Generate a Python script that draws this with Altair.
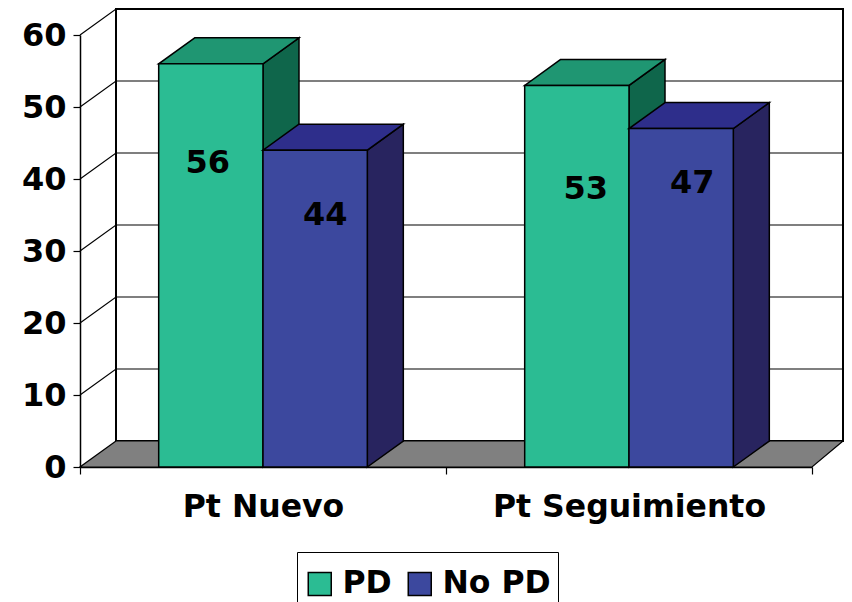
import altair as alt
import pandas as pd

categories = ["Pt Nuevo", "Pt Seguimiento"]
series = ["PD", "No PD"]
pd_values = [56, 53]
no_pd_values = [44, 47]

FRONT = {"PD": "#2BBC93", "No PD": "#3C489E"}
TOP = {"PD": "#1F9672", "No PD": "#2E2E8B"}
SIDE = {"PD": "#0F664B", "No PD": "#28245F"}
FONT = "DejaVu Sans"
DX = 36 / 366      # depth of the 3-D box in category units
DY = 26 / 7.2      # depth of the 3-D box in value units
WALL_RIGHT = 763 / 366  # right edge of the back wall, kept inside the page
BAR = 0.285
# pixel nudges of the value labels relative to each bar's top centre
LABEL_NUDGE = {("PD", 0): (-3, 99), ("No PD", 0): (10, 65),
               ("PD", 1): (9, 104), ("No PD", 1): (11, 54)}

label_expr = "datum.value == 0.5 ? '%s' : datum.value == 1.5 ? '%s' : ''" % tuple(categories)
xs = alt.Scale(domain=[0, 2], nice=False, zero=False)
ys = alt.Scale(domain=[0, 60], nice=False, zero=False)
x_axis = alt.Axis(
    values=[0, 0.5, 1, 1.5, 2], labelExpr=label_expr, grid=False,
    domainColor="black", domainWidth=1.5, tickColor="black", tickWidth=1.2, tickSize=7,
    tickOpacity=alt.condition("datum.value % 1 == 0", alt.value(1), alt.value(0)),
    labelFont=FONT, labelFontSize=31.5, labelFontWeight="bold", labelColor="black",
    labelPadding=17, labelFlush=False, labelOverlap=False, labelLimit=400,
)
y_axis = alt.Axis(
    values=list(range(0, 70, 10)), grid=False,
    domainColor="black", domainWidth=1.5, tickColor="black", tickWidth=1.2, tickSize=7,
    labelFont=FONT, labelFontSize=32, labelFontWeight="bold", labelColor="black",
    labelPadding=7,
)
X = alt.X("x:Q", scale=xs, title=None, axis=x_axis)
Y = alt.Y("y:Q", scale=ys, title=None, axis=y_axis)

# back wall
wall = alt.Chart(pd.DataFrame([{"x": DX, "x2": WALL_RIGHT, "y": DY, "y2": 60 + DY}])).mark_rect(
    fill="white", stroke="black", strokeWidth=2
).encode(X, x2="x2:Q", y=Y, y2="y2:Q")

# gridlines: diagonal on the side wall, then across the back wall
grid_rows = []
for v in range(10, 70, 10):
    grid_rows += [
        {"v": v, "o": 0, "x": 0, "y": v},
        {"v": v, "o": 1, "x": DX, "y": v + DY},
        {"v": v, "o": 2, "x": WALL_RIGHT, "y": v + DY},
    ]
grid = alt.Chart(pd.DataFrame(grid_rows)).mark_line(color="black", strokeWidth=1.2).encode(
    X, Y, detail="v:N", order="o:Q"
)

# floor
floor = alt.Chart(pd.DataFrame([
    {"y": 0, "x": 0, "x2": 2},
    {"y": DY, "x": DX, "x2": WALL_RIGHT},
])).mark_area(orient="horizontal", fill="#808080", stroke="black", strokeWidth=1.2).encode(
    X, x2="x2:Q", y=Y
)

values = {"PD": pd_values, "No PD": no_pd_values}
bars = []
for s_i, s in enumerate(series):
    for c_i, c in enumerate(categories):
        h = values[s][c_i]
        left = c_i + 0.5 - BAR + s_i * BAR
        right = left + BAR
        side = alt.Chart(pd.DataFrame([
            {"x": right, "y": 0, "y2": h},
            {"x": right + DX, "y": DY, "y2": h + DY},
        ])).mark_area(orient="vertical", fill=SIDE[s], stroke="black", strokeWidth=1.5).encode(
            X, Y, y2="y2:Q"
        )
        top = alt.Chart(pd.DataFrame([
            {"y": h, "x": left, "x2": right},
            {"y": h + DY, "x": left + DX, "x2": right + DX},
        ])).mark_area(orient="horizontal", fill=TOP[s], stroke="black", strokeWidth=1.5).encode(
            X, x2="x2:Q", y=Y
        )
        front = alt.Chart(pd.DataFrame([
            {"x": left, "x2": right, "y": 0, "y2": h, "serie": s}
        ])).mark_rect(stroke="black", strokeWidth=1.5).encode(
            X, x2="x2:Q", y=Y, y2="y2:Q",
            color=alt.Color(
                "serie:N",
                scale=alt.Scale(domain=series, range=[FRONT[k] for k in series]),
                legend=alt.Legend(
                    title=None, orient="none", legendX=217, legendY=517,
                    direction="horizontal", columns=2, symbolType="square",
                    symbolSize=529, symbolStrokeColor="black", symbolStrokeWidth=1.5,
                    labelFont=FONT, labelFontSize=31.5, labelFontWeight="bold",
                    labelColor="black", labelLimit=300, strokeColor="black",
                    padding=7, columnPadding=12, labelOffset=7, clipHeight=50,
                ),
            ),
        )
        bars += [side, top, front]

labels = []
for s in series:
    for c_i in range(len(categories)):
        s_i = series.index(s)
        left = c_i + 0.5 - BAR + s_i * BAR
        nx, ny = LABEL_NUDGE[(s, c_i)]
        labels.append(
            alt.Chart(pd.DataFrame([{"x": left + BAR / 2, "y": values[s][c_i], "t": str(values[s][c_i])}]))
            .mark_text(font=FONT, fontSize=32, fontWeight="bold", color="black",
                       dx=nx, dy=ny, baseline="middle", align="center")
            .encode(X, Y, text="t:N")
        )

chart = alt.layer(wall, grid, floor, *bars, *labels).properties(
    width=732, height=432,
    padding={"left": 72, "top": 27, "right": 32, "bottom": 135},
    autosize=alt.AutoSizeParams(type="none"),
    background="white",
).configure_view(stroke=None)

chart.save("out.html", embed_options={"renderer": "svg", "actions": False})
